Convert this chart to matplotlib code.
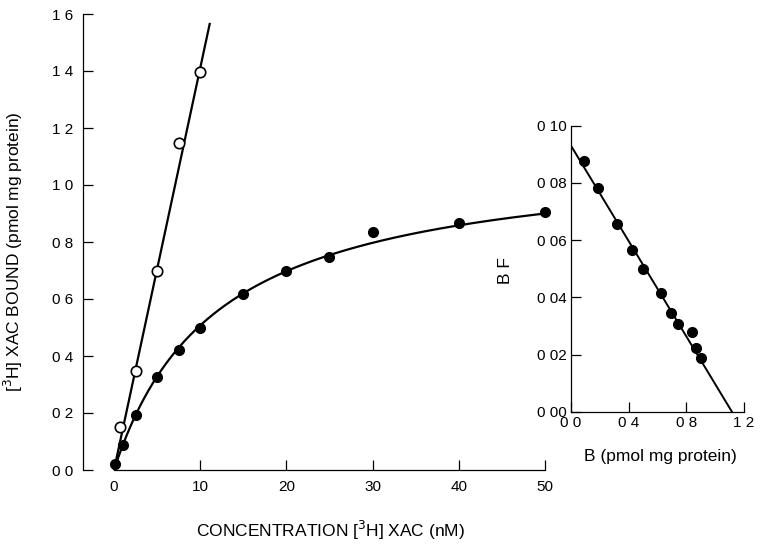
import numpy as np
import matplotlib
matplotlib.use("Agg")
import matplotlib.pyplot as plt

plt.rcParams['font.family'] = ['Liberation Sans', 'DejaVu Sans']

# ---- data ----
filled_conc = [0.1, 1.0, 2.5, 5.0, 7.5, 10.0, 15.0, 20.0, 25.0, 30.0, 40.0, 50.0]
filled_bound = [0.02, 0.087, 0.193, 0.328, 0.42, 0.497, 0.618, 0.70, 0.746, 0.834, 0.866, 0.905]
open_conc = [0.75, 2.5, 5.0, 7.5, 10.0]
open_bound = [0.15, 0.347, 0.70, 1.147, 1.398]
open_slope = 0.141          # linear fit (pmol/mg per nM)
open_line_end = 11.1        # nM
bmax = 1.116                # pmol/mg protein (fit)
kd = 12.0                   # nM (fit)

scat_B = [0.09, 0.19, 0.317, 0.424, 0.498, 0.627, 0.692, 0.745, 0.838, 0.866, 0.905]
scat_BF = [0.0877, 0.0782, 0.0656, 0.0564, 0.0499, 0.0414, 0.0345, 0.0308, 0.0278, 0.0224, 0.0187]

main_yticks = [0.0, 0.2, 0.4, 0.6, 0.8, 1.0, 1.2, 1.4, 1.6]
main_yticklabels = ["0 0", "0 2", "0 4", "0 6", "0 8", "1 0", "1 2", "1 4", "1 6"]
main_xticks = [0, 10, 20, 30, 40, 50]
main_xticklabels = ["0", "10", "20", "30", "40", "50"]
ins_xticks = [0.0, 0.4, 0.8, 1.2]
ins_xticklabels = ["0 0", "0 4", "0 8", "1 2"]
ins_yticks = [0.0, 0.02, 0.04, 0.06, 0.08, 0.10]
ins_yticklabels = ["0 00", "0 02", "0 04", "0 06", "0 08", "0 10"]

W, H = 762, 547
fig = plt.figure(figsize=(W / 100, H / 100), dpi=100)

# main axes: left spine at px 83, x=0 at px 114, x=50 at px 545, y=0 at 470, y=1.6 at 14
ax = fig.add_axes([83 / W, (H - 470) / H, (545 - 83) / W, (470 - 14) / H])
ax.set_xlim(-3.596, 50)
ax.set_ylim(0, 1.6)

cc = np.linspace(0, 50, 300)
ax.plot(cc, bmax * cc / (kd + cc), color='black', lw=1.6, zorder=2)
cl = np.array([0, open_line_end])
ax.plot(cl, open_slope * cl, color='black', lw=1.6, zorder=2)
ax.plot(filled_conc, filled_bound, 'o', color='black', ms=7, clip_on=False, zorder=3)
ax.plot(open_conc, open_bound, 'o', mfc='white', mec='black', mew=1.2, ms=7.5,
        clip_on=False, zorder=3)

for s in ['top', 'right']:
    ax.spines[s].set_visible(False)
ax.spines['left'].set_bounds(0, 1.6)
ax.spines['bottom'].set_bounds(0, 50)
for s in ['left', 'bottom']:
    ax.spines[s].set_linewidth(0.9)
ax.set_xticks(main_xticks)
ax.set_xticklabels(main_xticklabels)
ax.set_yticks(main_yticks)
ax.set_yticklabels(main_yticklabels)
ax.tick_params(direction='in', length=7, width=0.9, labelsize=11, pad=7)
ax.set_ylabel("[$^3$H] XAC BOUND (pmol mg protein)", fontsize=12.5)
ax.yaxis.set_label_coords(-0.1255, 0.478)
ax.set_xlabel("CONCENTRATION [$^3$H] XAC (nM)", fontsize=12.5)
ax.xaxis.set_label_coords(0.535, -0.1075)

# inset Scatchard axes: x 0 at 571, 1.2 at 744; y 0 at 411.7, 0.10 at 125.7
ins = fig.add_axes([571 / W, (H - 411.7) / H, (744 - 571) / W, (411.7 - 125.7) / H])
ins.set_xlim(0, 1.2)
ins.set_ylim(0, 0.10)
bb = np.array([0, bmax])
ins.plot(bb, (bmax - bb) / kd, color='black', lw=1.4, zorder=2)
ins.plot(scat_B, scat_BF, 'o', color='black', ms=7, clip_on=False, zorder=3)
for s in ['top', 'right']:
    ins.spines[s].set_visible(False)
for s in ['left', 'bottom']:
    ins.spines[s].set_linewidth(0.9)
ins.set_xticks(ins_xticks)
ins.set_xticklabels(ins_xticklabels)
ins.set_yticks(ins_yticks)
ins.set_yticklabels(ins_yticklabels)
ins.tick_params(direction='in', length=7, width=0.9, labelsize=11, pad=3)
ins.set_xlabel("B (pmol mg protein)", fontsize=12.5)
ins.xaxis.set_label_coords(0.514, -0.130)
ins.set_ylabel("B F", fontsize=12.5)
ins.yaxis.set_label_coords(-0.335, 0.495)

fig.savefig("out.png", dpi=100)
